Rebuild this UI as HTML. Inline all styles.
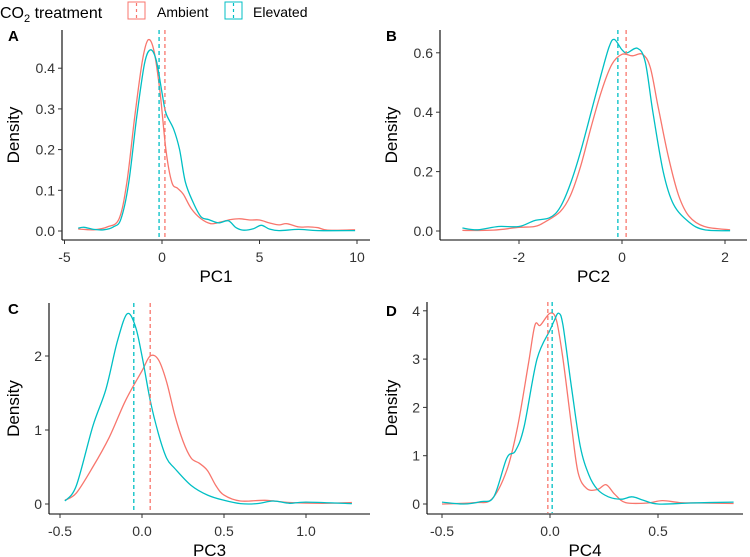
<!DOCTYPE html>
<html><head><meta charset="utf-8">
<style>
body{margin:0;background:#fff;}
svg{display:block;font-family:"Liberation Sans",Arial,sans-serif;}
.tick{font-size:14px;fill:#333;}
.atitle{font-size:17px;fill:#000;}
.plabel{font-size:15px;font-weight:bold;fill:#000;}
</style></head><body>
<svg id="chart" width="750" height="557" viewBox="0 0 750 557">
  <g>
    <text x="0" y="18" style="font-size:16px">CO<tspan dy="4" font-size="11">2</tspan><tspan dy="-4"> treatment</tspan></text>
    <rect x="128" y="2" width="17" height="17" fill="none" stroke="#F8766D" stroke-width="1"/>
    <line x1="136.5" y1="3" x2="136.5" y2="18" stroke="#F8766D" stroke-dasharray="3,3" stroke-width="1.2"/>
    <text x="157" y="17" style="font-size:14px">Ambient</text>
    <rect x="225" y="2" width="17" height="17" fill="none" stroke="#00BFC4" stroke-width="1"/>
    <line x1="233.5" y1="3" x2="233.5" y2="18" stroke="#00BFC4" stroke-dasharray="3,3" stroke-width="1.2"/>
    <text x="253" y="17" style="font-size:14px">Elevated</text>
  </g>
</svg>
<script>
const pc1Ambient=[[-4.3,0.005],[-3.5,0.003],[-2.8,0.01],[-2.2,0.03],[-1.8,0.12],[-1.4,0.28],[-1,0.42],[-0.7,0.47],[-0.4,0.44],[-0.1,0.34],[0.2,0.2],[0.5,0.12],[0.8,0.105],[1.1,0.09],[1.5,0.055],[2,0.03],[2.5,0.018],[3,0.022],[3.5,0.028],[4,0.03],[4.5,0.027],[5,0.027],[5.5,0.02],[6,0.015],[6.4,0.018],[7,0.01],[7.5,0.01],[8,0.008],[8.5,0.002],[9.9,0.003]];
const pc1Elevated=[[-4.3,0.007],[-4,0.009],[-3.5,0.004],[-3,0.003],[-2.5,0.01],[-2.1,0.03],[-1.7,0.12],[-1.3,0.28],[-0.9,0.41],[-0.6,0.445],[-0.3,0.42],[0,0.34],[0.2,0.29],[0.6,0.25],[0.9,0.2],[1.2,0.12],[1.6,0.07],[2,0.035],[2.4,0.028],[2.9,0.02],[3.4,0.025],[3.8,0.008],[4.2,0.002],[4.7,0.006],[5.1,0.014],[5.5,0.005],[6,0.001],[7,0.004],[8,0.001],[9.9,0.001]];
const pc2Ambient=[[-3.1,0.002],[-2.5,0.003],[-2,0.012],[-1.7,0.015],[-1.5,0.03],[-1.2,0.065],[-1,0.12],[-0.8,0.22],[-0.6,0.35],[-0.4,0.47],[-0.2,0.56],[0,0.595],[0.2,0.59],[0.4,0.595],[0.55,0.55],[0.7,0.42],[0.9,0.25],[1.1,0.12],[1.3,0.05],[1.6,0.015],[2.1,0.004]];
const pc2Elevated=[[-3.1,0.01],[-2.8,0.004],[-2.4,0.015],[-2,0.015],[-1.7,0.035],[-1.4,0.045],[-1.2,0.08],[-1,0.16],[-0.8,0.27],[-0.6,0.4],[-0.4,0.53],[-0.25,0.62],[-0.15,0.645],[0,0.61],[0.1,0.6],[0.3,0.615],[0.45,0.57],[0.6,0.4],[0.8,0.2],[1,0.09],[1.3,0.03],[1.6,0.004],[2.1,0.001]];
const pc3Ambient=[[-0.47,0.05],[-0.4,0.15],[-0.3,0.5],[-0.2,0.9],[-0.1,1.4],[0,1.8],[0.05,2.0],[0.1,1.95],[0.15,1.65],[0.2,1.2],[0.25,0.85],[0.3,0.62],[0.35,0.55],[0.4,0.45],[0.45,0.25],[0.5,0.12],[0.6,0.04],[0.75,0.05],[0.9,0.02],[1.1,0.01],[1.28,0.02]];
const pc3Elevated=[[-0.47,0.04],[-0.4,0.25],[-0.3,1.05],[-0.22,1.55],[-0.15,2.2],[-0.09,2.57],[-0.04,2.4],[0,2.0],[0.05,1.4],[0.1,0.95],[0.15,0.62],[0.2,0.48],[0.3,0.25],[0.4,0.12],[0.5,0.05],[0.6,0.005],[0.7,0.005],[0.8,0.04],[0.9,0.01],[1.0,0.025],[1.28,0.005]];
const pc4Ambient=[[-0.5,0.0],[-0.35,0.03],[-0.27,0.1],[-0.2,0.7],[-0.15,1.6],[-0.1,2.9],[-0.07,3.7],[-0.045,3.7],[0,3.95],[0.03,3.8],[0.06,3.0],[0.1,1.6],[0.13,0.65],[0.17,0.32],[0.22,0.3],[0.26,0.4],[0.3,0.2],[0.35,0.03],[0.45,0.02],[0.52,0.07],[0.6,0.03],[0.7,0.02],[0.85,0.01]];
const pc4Elevated=[[-0.5,0.04],[-0.4,0.0],[-0.32,0.05],[-0.26,0.15],[-0.2,0.95],[-0.16,1.1],[-0.12,1.6],[-0.06,3.0],[0,3.6],[0.02,3.8],[0.04,3.95],[0.06,3.7],[0.1,2.4],[0.14,1.2],[0.18,0.6],[0.22,0.3],[0.27,0.15],[0.33,0.1],[0.38,0.15],[0.43,0.08],[0.5,0.0],[0.65,0.02],[0.85,0.04]];
const meanAmbient=[0.15,0.08,0.05,-0.01];
const meanElevated=[-0.15,-0.08,-0.05,0.01];
const xTicks=[[-5,0,5,10],[-2,0,2],[-0.5,0.0,0.5,1.0],[-0.5,0.0,0.5]];
const xTickLabels=[["-5","0","5","10"],["-2","0","2"],["-0.5","0.0","0.5","1.0"],["-0.5","0.0","0.5"]];
const yTicks=[[0,0.1,0.2,0.3,0.4],[0,0.2,0.4,0.6],[0,1,2],[0,1,2,3,4]];
const yTickLabels=[["0.0","0.1","0.2","0.3","0.4"],["0.0","0.2","0.4","0.6"],["0","1","2"],["0","1","2","3","4"]];
const panelNames=["A","B","C","D"];
const axisTitles=["PC1","PC2","PC3","PC4"];

const geo=[
 {ax:62,ay:240,rx:370,ty:30,x0:162,xs:19.5,y0:231,ys:407,lx:8,ly:41,dx:19},
 {ax:440,ay:240,rx:747,ty:30,x0:622,xs:51.5,y0:231,ys:297,lx:386,ly:41,dx:397},
 {ax:49,ay:514,rx:370,ty:303,x0:142,xs:164,y0:504,ys:74,lx:8,ly:314,dx:19},
 {ax:427,ay:514,rx:743,ty:302,x0:550,xs:216,y0:504,ys:48.3,lx:386,ly:316,dx:397}
];
const series=[[pc1Ambient,pc1Elevated],[pc2Ambient,pc2Elevated],[pc3Ambient,pc3Elevated],[pc4Ambient,pc4Elevated]];
const svg=document.getElementById('chart');
const NS='http://www.w3.org/2000/svg';
function mk(tag,attrs,parent){const e=document.createElementNS(NS,tag);for(const k in attrs)e.setAttribute(k,attrs[k]);parent.appendChild(e);return e;}
function smooth(pts){let d='M'+pts[0][0].toFixed(1)+','+pts[0][1].toFixed(1);
 for(let i=0;i<pts.length-1;i++){const p0=pts[Math.max(i-1,0)],p1=pts[i],p2=pts[i+1],p3=pts[Math.min(i+2,pts.length-1)];
  const c1=[p1[0]+(p2[0]-p0[0])/6,p1[1]+(p2[1]-p0[1])/6],c2=[p2[0]-(p3[0]-p1[0])/6,p2[1]-(p3[1]-p1[1])/6];
  d+='C'+c1.map(v=>v.toFixed(1))+' '+c2.map(v=>v.toFixed(1))+' '+p2.map(v=>v.toFixed(1));}
 return d;}
const colors=["#F8766D","#00BFC4"];
const groupNames=["ambient","elevated"];
for(let p=0;p<4;p++){
 const g=geo[p];
 const xS=v=>g.x0+v*g.xs, yS=v=>g.y0-v*g.ys;
 const grp=mk('g',{},svg);
 
 
 const lab=mk('text',{x:g.lx,y:g.ly,class:'plabel'},grp);lab.textContent=panelNames[p];
 
 
 const yax=mk('line',{x1:g.ax,y1:g.ty,x2:g.ax,y2:g.ay,stroke:'#000','stroke-width':1.1},grp);
 
 
 const xax=mk('line',{x1:g.ax,y1:g.ay,x2:g.rx,y2:g.ay,stroke:'#000','stroke-width':1.1},grp);
 
 
 xTicks[p].forEach((t,i)=>{const x=xS(t);
  mk('line',{x1:x,y1:g.ay,x2:x,y2:g.ay+4,stroke:'#333'},grp);
  const tt=mk('text',{x:x,y:g.ay+22,class:'tick','text-anchor':'middle'},grp);tt.textContent=xTickLabels[p][i];
  
  });
 yTicks[p].forEach((t,i)=>{const y=yS(t);
  mk('line',{x1:g.ax-4,y1:y,x2:g.ax,y2:y,stroke:'#333'},grp);
  const tt=mk('text',{x:g.ax-7,y:y+5,class:'tick','text-anchor':'end'},grp);tt.textContent=yTickLabels[p][i];
  
  });
 const xt=mk('text',{x:(g.ax+g.rx)/2,y:g.ay+42,class:'atitle','text-anchor':'middle'},grp);xt.textContent=axisTitles[p];
 
 
 const cy=(g.ty+g.ay)/2;
 const yt=mk('text',{x:g.dx,y:cy,class:'atitle','text-anchor':'middle',transform:'rotate(-90 '+g.dx+' '+cy+')'},grp);yt.textContent='Density';
 
 
 series[p].forEach((s,k)=>{
  const path=mk('path',{d:smooth(s.map(q=>[xS(q[0]),yS(q[1])])),fill:'none',stroke:colors[k],'stroke-width':1.3},grp);
  
  
 });
 [meanAmbient[p],meanElevated[p]].forEach((m,k)=>{
  const l=mk('line',{x1:xS(m),y1:g.ty,x2:xS(m),y2:g.ay-1,stroke:colors[k],'stroke-width':1.3,'stroke-dasharray':'4,3'},grp);
  
  
 });
}
</script>
</body></html>
